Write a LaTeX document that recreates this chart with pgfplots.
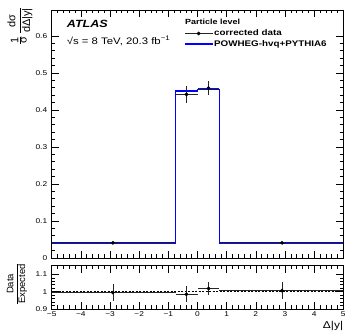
\documentclass[border=0pt]{standalone}
\usepackage{fontspec}
\setmainfont[FakeStretch=1.2]{Liberation Sans}
\newfontfamily\rotfont{Liberation Sans}
\usepackage{xcolor}
\usepackage{pgfplots}
\pgfplotsset{compat=1.18}
\definecolor{pblue}{RGB}{0,0,255}
\begin{document}
\begin{tikzpicture}
\pgfplotsset{
 atlas/.style={scale only axis, width=291.6bp, xmin=-5, xmax=5,
   tick align=inside, major tick length=7bp, minor tick length=3.5bp,
   xtick={-5,-4,-3,-2,-1,0,1,2,3,4,5}, minor x tick num=4,
   axis line style={line width=0.8bp},
   every tick/.style={black, line width=0.6bp},
   tick label style={font=\fontsize{7}{8}\selectfont},
   /pgf/number format/assume math mode=true,
   xtick pos=both, ytick pos=both, clip=false},
}
\path[use as bounding box] (0,0) rectangle (347bp,335bp);
% main panel
\begin{axis}[atlas, at={(51.7bp,77bp)}, anchor=south west, height=248bp,
  ymin=0, ymax=0.67,
  ytick={0,0.1,0.2,0.3,0.4,0.5,0.6},
  yticklabels={0,0.1,0.2,0.3,0.4,0.5,0.6},
  minor y tick num=4, xticklabels={},
  yticklabel style={xshift=-1bp},
  legend style={at={(axis description cs:0.4537,0.925)}, anchor=north west,
    draw=none, fill=none, inner sep=0pt, row sep=1bp,
    font=\fontsize{8.2}{9}\selectfont\bfseries,
    nodes={inner sep=1pt},
    /tikz/every even column/.append style={column sep=4bp}},
  legend cell align=left,
  legend image code/.code={\draw[#1] (0bp,0bp) -- (27.7bp,0bp);},
]
\addplot[draw=pblue, color=pblue, line width=1.3bp, const plot, forget plot] coordinates {(-5,0.041) (-0.75,0.451) (0,0.455) (0.75,0.041) (5,0.041)};
\addplot[black, only marks, mark=*, mark size=1.7bp, forget plot,
  error bars/.cd, x dir=both, x explicit, y dir=both, y explicit, error mark=none,
  error bar style={black!85, line width=0.55bp}] coordinates {
 (-2.9,0.041) += (2.15,0.002) -= (2.1,0.002)
 (-0.38,0.442) += (0.38,0.022) -= (0.37,0.022)
 (0.38,0.459) += (0.37,0.018) -= (0.38,0.018)
 (2.9,0.041) += (2.1,0.002) -= (2.15,0.002)
};
\addlegendimage{legend image code/.code={\draw[black!85, line width=0.8bp] (0bp,0bp) -- (27.7bp,0bp); \fill[black] (13.85bp,0bp) circle (1.7bp);}}
\addlegendentry{corrected data}
\addlegendimage{draw=pblue, color=pblue, line width=1.3bp}
\addlegendentry{POWHEG-hvq+PYTHIA6}
\end{axis}
% ratio panel
\begin{axis}[atlas, at={(51.7bp,26bp)}, anchor=south west, height=43.3bp,
  ymin=0.9, ymax=1.15,
  ytick={0.9,1,1.1}, yticklabels={0.9,1,1.1},
  minor y tick num=4,
  yticklabel style={xshift=-1bp},
  xticklabels={−5,−4,−3,−2,−1,0,1,2,3,4,5},
  xticklabel style={yshift=1bp},
]
\addplot[black, line width=0.7bp, dash pattern=on 2bp off 1.5bp] coordinates {(-5,1) (5,1)};
\addplot[black, only marks, mark=*, mark size=1.7bp,
  error bars/.cd, x dir=both, x explicit, y dir=both, y explicit, error mark=none,
  error bar style={black!85, line width=0.7bp}] coordinates {
 (-2.9,0.995) += (2.15,0.05) -= (2.1,0.05)
 (-0.38,0.985) += (0.38,0.045) -= (0.37,0.045)
 (0.38,1.018) += (0.37,0.037) -= (0.38,0.037)
 (2.9,1.006) += (2.1,0.05) -= (2.15,0.05)
};
\end{axis}
% texts
\node[anchor=west, inner sep=0pt, font=\fontsize{10.5}{12}\selectfont\bfseries\itshape] at (66.7bp,311bp) {ATLAS};
\node[anchor=west, inner sep=0pt, font=\fontsize{9.5}{11}\selectfont] at (66.7bp,294bp) {√s = 8 TeV, 20.3 fb\textsuperscript{−1}};
\node[anchor=west, inner sep=0pt, font=\fontsize{7.5}{8}\selectfont\bfseries] at (185bp,313.3bp) {Particle level};
\node[rotate=90, anchor=east, inner sep=0pt, font=\rotfont\fontsize{11}{12}\selectfont] at (20bp,328bp)
  {$\frac{\mbox{1}}{\mbox{σ}}\,\displaystyle\frac{\mbox{dσ}}{\mbox{dΔ|y|}}$};
\node[rotate=90, inner sep=0pt, font=\rotfont\fontsize{9.5}{10}\selectfont] at (17bp,51bp)
  {$\displaystyle\frac{\mbox{Data}}{\mbox{Expected}}$};
\node[anchor=north east, inner sep=0pt, font=\fontsize{10}{11}\selectfont] at (343.3bp,14bp) {Δ|y|};
\end{tikzpicture}
\end{document}
